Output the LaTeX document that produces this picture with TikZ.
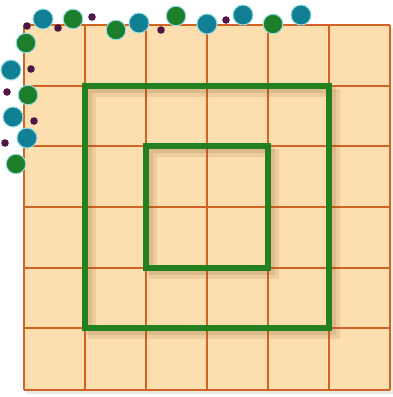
\documentclass[tikz,border=0pt]{standalone}
\begin{document}
\begin{tikzpicture}[x=1pt,y=-1pt,
  gridline/.style={draw=gridorange,line width=2.8pt},
  sq/.style={draw=sqgreen,line width=6.5pt,line join=miter},
  sqshadow/.style={draw=shadowbrown,line width=8pt,opacity=0.12},
  tealdot/.style={fill=dotteal,draw=halo,line width=1pt},
  greendot/.style={fill=dotgreen,draw=halo,line width=1pt},
  smalldot/.style={fill=dotpurple}]
\definecolor{gridorange}{RGB}{208,100,36}
\definecolor{cellfill}{RGB}{253,222,174}
\definecolor{sqgreen}{RGB}{34,128,30}
\definecolor{shadowbrown}{RGB}{120,70,30}
\definecolor{dotteal}{RGB}{18,128,148}
\definecolor{dotgreen}{RGB}{28,126,42}
\definecolor{dotpurple}{RGB}{80,22,70}
\definecolor{halo}{RGB}{150,220,225}
\useasboundingbox (0,0) rectangle (393,397);
\fill[white] (0,0) rectangle (393,397);
% grid shadow
\fill[shadowbrown,opacity=0.12] (27,28) rectangle (393,394);
\fill[cellfill] (24,25) rectangle (390,390);
% grid
\foreach \x in {24,85,146,207,268,329,390} \draw[gridline] (\x,25) -- (\x,390);
\foreach \y in {25,86,146,207,268,328,390} \draw[gridline] (24,\y) -- (390,\y);
% square shadows (soft)
\draw[sqshadow] (92,93) rectangle (336,335);
\draw[sqshadow] (153,153) rectangle (275,275);
\draw[sqshadow,line width=6pt] (89,90) rectangle (333,332);
\draw[sqshadow,line width=6pt] (150,150) rectangle (272,272);
% green squares
\draw[sq] (85,86) rectangle (329,328);
\draw[sq] (146,146) rectangle (268,268);
% small dots
\foreach \p in {(92,17),(27,26),(58,28),(161,30),(31,69),(7,92),(34,121),(5,143),(226,20)}
  \fill[smalldot] \p circle (3.8);
% teal dots
\foreach \p in {(43,19),(139,23),(11,70),(13,117),(27,138),(207,24),(243,15),(301,15)}
  \filldraw[tealdot] \p circle (10);
% green dots
\foreach \p in {(73,19),(116,30),(176,16),(26,43),(28,95),(16,164),(273,24)}
  \filldraw[greendot] \p circle (9.8);
\end{tikzpicture}
\end{document}
